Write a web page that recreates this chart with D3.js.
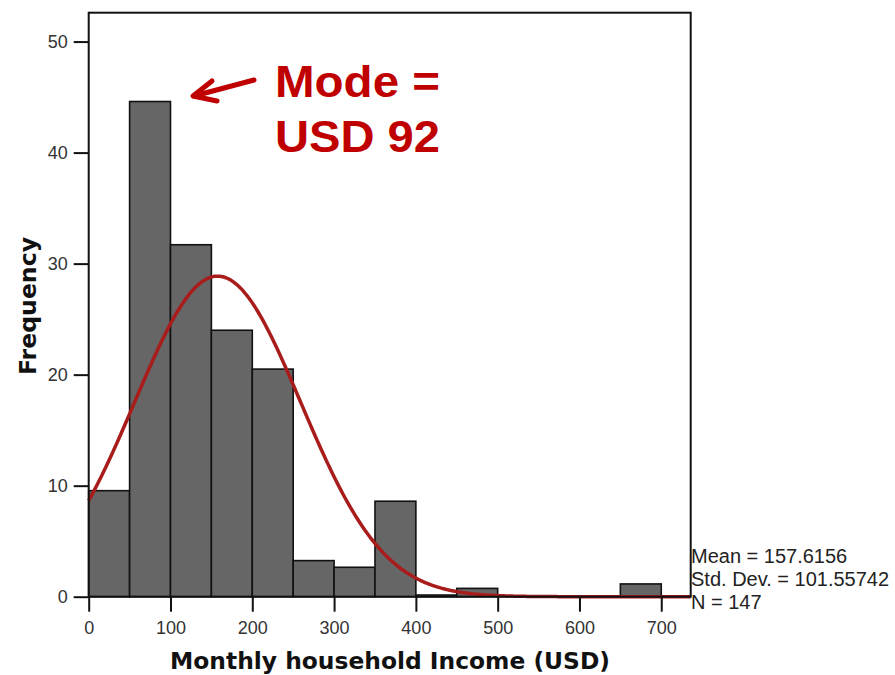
<!DOCTYPE html>
<html><head><meta charset="utf-8">
<script src="https://cdn.jsdelivr.net/npm/d3@7"></script>
<style>body{margin:0;background:#fff}svg{display:block}</style>
</head><body>
<svg id="chart" width="895" height="675"></svg>
<script>
// ---- data ----
const binStarts = [0, 50, 100, 150, 200, 250, 300, 350, 400, 450, 650];
const binWidth = 50;
const frequencies = [9.55, 44.6, 31.7, 24.0, 20.5, 3.25, 2.65, 8.6, 0.15, 0.75, 1.15];
const xTicks = [0, 100, 200, 300, 400, 500, 600, 700];
const yTicks = [0, 10, 20, 30, 40, 50];
const statMean = 157.6156, statSD = 101.55742, statN = 147;
const statLabels = ["Mean = 157.6156", "Std. Dev. = 101.55742", "N = 147"];
const xTitle = "Monthly household Income (USD)";
const yTitle = "Frequency";
const noteLines = ["Mode =", "USD 92"];

// ---- layout ----
const L = 88.7, T = 12.7, R = 690.7, B = 596.7;
const svg = d3.select("#chart");
const x = d3.scaleLinear().domain([0, 736]).range([L, R]);
const y = d3.scaleLinear().domain([0, 52.6]).range([B, T]);

// bars
svg.append("g").selectAll("rect").data(binStarts).join("rect")
  .attr("x", (d) => x(d))
  .attr("width", x(binWidth) - x(0))
  .attr("y", (d, i) => y(frequencies[i]))
  .attr("height", (d, i) => B - y(frequencies[i]))
  .attr("fill", "#666666").attr("stroke", "#111").attr("stroke-width", 1.6);

// normal curve from displayed statistics
const curveXs = d3.range(0, 736.5, 2);
const normal = (v) => statN * binWidth / (statSD * Math.sqrt(2 * Math.PI)) * Math.exp(-0.5 * ((v - statMean) / statSD) ** 2);
svg.append("path").datum(curveXs)
  .attr("d", d3.line().x((d) => x(d)).y((d) => y(normal(d))))
  .attr("fill", "none").attr("stroke", "#a81c1c").attr("stroke-width", 3.5);

// frame
svg.append("rect").attr("x", L).attr("y", T).attr("width", R - L).attr("height", B - T)
  .attr("fill", "none").attr("stroke", "#111").attr("stroke-width", 2);

// axes
const fontTick = "'Liberation Sans', Arial, sans-serif";
const yAxis = svg.append("g").attr("transform", `translate(${L},0)`)
  .call(d3.axisLeft(y).tickValues(yTicks).tickSize(15).tickPadding(6));
const xAxis = svg.append("g").attr("transform", `translate(0,${B})`)
  .call(d3.axisBottom(x).tickValues(xTicks).tickSize(15).tickPadding(10));
[yAxis, xAxis].forEach((g) => {
  g.select(".domain").remove();
  g.selectAll("line").attr("stroke", "#111").attr("stroke-width", 2);
  g.selectAll("text").attr("font-family", fontTick).attr("font-size", 18).attr("fill", "#333");
});

// axis titles
svg.append("text").attr("x", 390).attr("y", 669).attr("text-anchor", "middle")
  .attr("font-family", "'DejaVu Sans', Verdana, sans-serif").attr("font-weight", "bold")
  .attr("font-size", 23.5).attr("textLength", 440).attr("lengthAdjust", "spacingAndGlyphs")
  .attr("fill", "#111").text(xTitle);
svg.append("text").attr("transform", "translate(36,306) rotate(-90)").attr("text-anchor", "middle")
  .attr("font-family", "'DejaVu Sans', Verdana, sans-serif").attr("font-weight", "bold")
  .attr("font-size", 23.5).attr("textLength", 138).attr("lengthAdjust", "spacingAndGlyphs")
  .attr("fill", "#111").text(yTitle);

// stats
svg.append("g").selectAll("text").data(statLabels).join("text")
  .attr("x", 691).attr("y", (d, i) => 563 + i * 23)
  .attr("font-family", fontTick).attr("font-size", 20).attr("fill", "#222")
  .text((d) => d);

// annotation
const red = "#c00000";
svg.append("g").selectAll("text").data(noteLines).join("text")
  .attr("x", 275).attr("y", (d, i) => 97 + i * 55)
  .attr("font-family", "'Liberation Sans', Arial, sans-serif").attr("font-weight", "bold")
  .attr("font-size", 44).attr("textLength", 165).attr("lengthAdjust", "spacingAndGlyphs")
  .attr("fill", red).text((d) => d);
const arrow = svg.append("g").attr("stroke", red).attr("stroke-width", 5).attr("stroke-linecap", "round").attr("fill", "none");
arrow.append("line").attr("x1", 254).attr("y1", 80).attr("x2", 194).attr("y2", 96);
arrow.append("polyline").attr("points", "212,81 193,96 217,101").attr("stroke-linejoin", "round");
</script>
</body></html>
